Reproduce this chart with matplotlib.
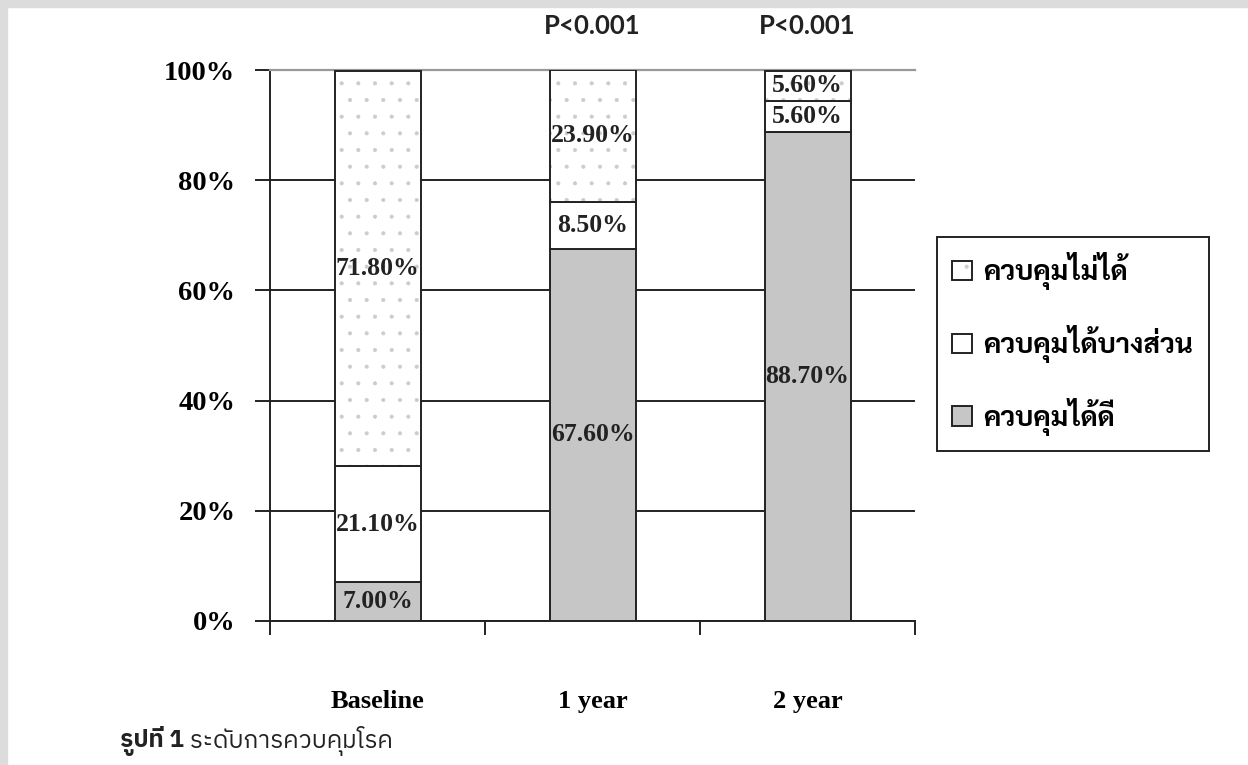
import matplotlib
matplotlib.use("Agg")
import matplotlib.pyplot as plt
from matplotlib.patches import Rectangle

# data (percent of patients)
groups = ["Baseline", "1 year", "2 year"]
good = [7.0, 67.6, 88.7]        # ควบคุมได้ดี
partial = [21.1, 8.5, 5.6]      # ควบคุมได้บางส่วน
uncontrolled = [71.8, 23.9, 5.6]  # ควบคุมไม่ได้
p_values = ["", "P<0.001", "P<0.001"]
y_ticks = [0, 20, 40, 60, 80, 100]
legend_labels = ["ควบคุมไม่ได้", "ควบคุมได้บางส่วน", "ควบคุมได้ดี"]
caption_bold = "รูปที่ 1"
caption_rest = " ระดับการควบคุมโรค"

SERIF = "Liberation Serif"
THAI_LOOPED = ["Sarabun", "DejaVu Sans"]
THAI = ["IBM Plex Sans Thai", "Lato", "DejaVu Sans"]
GREY_FILL = "#c6c6c6"
DOT_GREY = "#cccccc"
INK = "#222222"

plt.rcParams["hatch.linewidth"] = 0.5

fig = plt.figure(figsize=(12.48, 7.65), dpi=100)
ax = fig.add_axes([270 / 1248, 1 - 621 / 765, 645 / 1248, 551 / 765])

# light grey page border on the left and top
fig.patches.append(Rectangle((0, 1 - 7 / 765), 1, 7 / 765, transform=fig.transFigure,
                             color="#dcdcdc", zorder=0))
fig.patches.append(Rectangle((0, 0), 7 / 1248, 1, transform=fig.transFigure,
                             color="#dcdcdc", zorder=0))

x = list(range(len(groups)))
width = 0.4
bottom_partial = good
bottom_unc = [g + p for g, p in zip(good, partial)]

kw = dict(width=width, linewidth=1.4, edgecolor=INK, zorder=3)
b_good = ax.bar(x, good, color=GREY_FILL, **kw)
b_part = ax.bar(x, partial, bottom=bottom_partial, color="white", **kw)
# dotted fill: hatch drawn in grey, outline drawn separately in black
b_dots = ax.bar(x, uncontrolled, bottom=bottom_unc, width=width, color="white",
                edgecolor=DOT_GREY, hatch=".", linewidth=0, zorder=3)
b_unc = ax.bar(x, uncontrolled, bottom=bottom_unc, fill=False, **kw)

for vals, bots in [(good, [0] * 3), (partial, bottom_partial), (uncontrolled, bottom_unc)]:
    for xi, v, b in zip(x, vals, bots):
        ax.text(xi, b + v / 2, f"{v:.2f}%", ha="center", va="center",
                fontsize=18.5, fontweight="bold", family=SERIF, color=INK, zorder=5)

for xi, p in zip(x, p_values):
    if p:
        ax.text(xi, 1.0 + 44 / 551, p, transform=ax.get_xaxis_transform(), ha="center",
                va="center", fontsize=18.5, fontweight="bold", family="Lato", color=INK)

ax.set_xlim(-0.5, 2.5)
ax.set_ylim(0, 100)
ax.set_yticks(y_ticks)
ax.set_yticklabels([f"{t}%" for t in y_ticks], fontsize=20.5, fontweight="bold", family=SERIF)
ax.tick_params(axis="y", length=11, width=1.4, direction="out", pad=14, color=INK)
ax.set_xticks([-0.5, 0.5, 1.5, 2.5])
ax.set_xticklabels([])
ax.set_xticks(x, minor=True)
ax.set_xticklabels(groups, minor=True, fontsize=19, fontweight="bold", family=SERIF)
ax.tick_params(axis="x", which="major", length=10, width=1.4, direction="out", color=INK)
ax.tick_params(axis="x", which="minor", length=0, pad=50)

ax.grid(axis="y", color=INK, linewidth=1.4)
ax.set_axisbelow(True)
ax.spines["right"].set_visible(False)
ax.spines["top"].set_color("#999999")
ax.spines["top"].set_linewidth(1.6)
for s in ("left", "bottom"):
    ax.spines[s].set_color(INK)
    ax.spines[s].set_linewidth(1.4)

leg = fig.legend([(b_dots, b_unc), b_part, b_good], legend_labels,
                 loc="upper left", bbox_to_anchor=(937 / 1248, 1 - 237 / 765),
                 prop=dict(family=THAI_LOOPED, weight="bold", size=20),
                 frameon=True, fancybox=False, edgecolor=INK, framealpha=1,
                 handlelength=0.7, handleheight=0.7, handletextpad=0.42,
                 labelspacing=1.25, borderpad=0.55, borderaxespad=0)
leg.get_frame().set_linewidth(1.4)

cap = fig.text(120 / 1248, 1 - 741 / 765, caption_bold, ha="left", va="center",
               fontsize=17.5, fontweight="bold", family=THAI, color=INK)
ax.annotate(caption_rest, xy=(1, 0), xycoords=cap, va="bottom", ha="left",
            fontsize=17.5, family=THAI, color=INK, annotation_clip=False)

fig.savefig("out.png", dpi=100)
